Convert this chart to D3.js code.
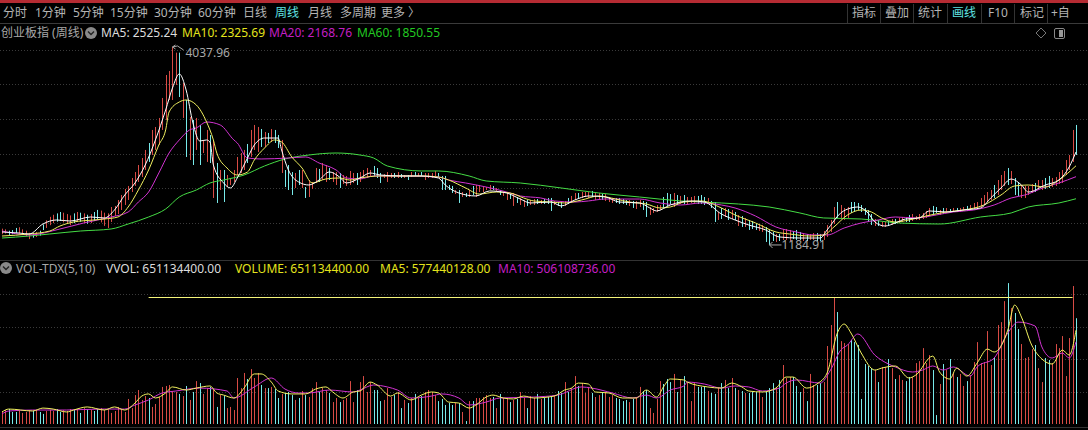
<!DOCTYPE html>
<html>
<head>
<meta charset="utf-8">
<title>创业板指 (周线)</title>
<script src="https://cdn.jsdelivr.net/npm/d3@7"></script>
<style>
html,body{margin:0;padding:0;background:#000;overflow:hidden;}
text{font-family:"Noto Sans","Noto Sans CJK SC",sans-serif;font-size:12px;}
</style>
</head>
<body>
<div id="chart"></div>
<script>
// weekly bars, 10 per row
var priceHigh = [
1420,1410,1390,1400,1430,1440,1410,1390,1360,1350,
1370,1390,1480,1540,1590,1620,1640,1660,1650,1630,
1610,1640,1660,1650,1640,1620,1630,1660,1690,1680,
1650,1640,1732,1747,1833,1905,1992,2035,2150,2236,
2337,2438,2554,2654,2842,2885,3015,3303,3634,3692,
4038,3956,3956,3519,3274,3029,2986,3015,2914,2698,
2842,2770,2698,2366,2265,2265,2193,2150,2265,2453,
2510,2554,2640,2842,2914,2885,2856,2813,2799,2856,
2842,2770,2698,2265,2337,2236,2222,2265,2265,2020,
2121,2092,2294,2280,2366,2337,2294,2236,2236,2222,
2193,2179,2251,2222,2222,2236,2265,2294,2265,2323,
2294,2222,2207,2236,2222,2222,2236,2207,2193,2193,
2236,2236,2222,2236,2222,2222,2222,2251,2222,2179,
2179,2049,2035,1977,1977,1948,1934,1977,2035,2049,
2049,2020,2020,2049,2035,2006,1977,1948,1948,1919,
1934,1876,1862,1833,1833,1833,1847,1847,1833,1847,
1862,1862,1819,1804,1804,1819,1862,1891,1934,1934,
1948,1948,1948,1963,1934,1934,1919,1919,1876,1862,
1862,1862,1847,1833,1833,1819,1819,1833,1819,1804,
1732,1718,1761,1761,1876,1934,1919,1934,1905,1891,
1905,1876,1876,1891,1891,1905,1876,1862,1819,1804,
1660,1718,1718,1703,1689,1660,1617,1602,1574,1545,
1530,1487,1487,1473,1444,1401,1372,1343,1343,1415,
1415,1401,1386,1401,1372,1357,1343,1343,1357,1357,
1343,1386,1473,1545,1732,1804,1761,1718,1732,1804,
1804,1790,1761,1718,1689,1631,1559,1545,1516,1516,
1530,1559,1559,1574,1588,1588,1617,1631,1602,1631,
1646,1675,1718,1747,1732,1689,1718,1718,1703,1718,
1718,1718,1732,1747,1761,1790,1804,1862,1905,1948,
1977,2049,2121,2193,2251,2294,2251,2150,2092,2049,
2035,2035,2063,2078,2121,2121,2150,2179,2150,2164,
2236,2265,2409,2481,2842,2914];
var priceLow = [
1340,1350,1330,1340,1360,1350,1330,1310,1270,1290,
1300,1320,1400,1430,1470,1500,1520,1530,1510,1490,
1470,1500,1520,1520,1500,1490,1500,1530,1550,1510,
1460,1430,1516,1602,1631,1689,1761,1833,1948,2035,
2092,2164,2265,2381,2481,2554,2626,2842,2986,3274,
3274,3490,3317,3015,2453,2409,2337,2554,2337,2510,
2381,2366,1862,1790,1977,1804,2020,2049,2092,2193,
2222,2265,2366,2453,2554,2525,2597,2597,2654,2669,
2654,2582,2222,2020,1977,1905,2006,2049,2006,1862,
1876,1992,2078,2092,2121,2092,2121,2092,2049,2006,
2063,2035,2049,2078,2049,2092,2150,2150,2179,2179,
2150,2078,2150,2092,2150,2150,2150,2150,2150,2121,
2164,2179,2179,2179,2121,2150,2150,2179,2164,1977,
1977,1977,1934,1919,1790,1876,1876,1876,1905,1876,
1948,1948,1977,1977,1977,1963,1905,1891,1833,1847,
1747,1790,1761,1732,1747,1761,1761,1775,1775,1775,
1775,1675,1761,1747,1718,1747,1775,1790,1833,1847,
1862,1876,1862,1876,1833,1847,1833,1819,1804,1790,
1790,1775,1775,1761,1747,1718,1703,1732,1689,1588,
1617,1646,1660,1689,1718,1747,1775,1732,1761,1775,
1775,1775,1790,1790,1775,1775,1761,1790,1718,1516,
1545,1559,1588,1545,1559,1545,1458,1444,1444,1401,
1415,1401,1386,1372,1228,1185,1242,1228,1242,1257,
1257,1242,1271,1257,1257,1242,1242,1257,1257,1242,
1242,1257,1300,1372,1487,1574,1574,1545,1574,1646,
1660,1689,1660,1617,1516,1473,1458,1458,1444,1444,
1458,1473,1487,1502,1516,1516,1516,1530,1545,1545,
1559,1574,1602,1631,1646,1617,1631,1646,1646,1660,
1660,1660,1675,1675,1689,1703,1718,1732,1761,1804,
1833,1862,1905,1977,2035,2049,2063,1905,1891,1862,
1862,1905,1934,1948,1977,1977,1992,2006,2020,2035,
2063,2078,2193,2265,2381,2481];
// volume in millions
var volume = [
80,86,92,74,74,80,68,74,86,80,
86,74,62,80,86,80,92,74,86,80,
92,86,92,68,98,92,86,80,92,98,
86,92,68,80,105,92,74,154,98,178,
209,148,172,160,105,123,166,228,234,240,
203,197,185,172,234,148,197,264,252,185,
221,228,209,105,178,172,98,105,86,283,
221,314,277,338,283,314,240,221,221,228,
215,160,185,191,197,178,148,160,203,178,
166,221,258,197,221,209,191,135,160,135,
148,160,264,135,209,258,295,197,258,209,
209,141,148,221,166,178,197,98,148,129,
160,185,160,172,197,209,197,178,141,154,
117,129,117,129,129,74,18,141,141,160,
160,166,178,160,166,98,185,160,160,135,
148,154,197,160,98,172,160,185,154,160,
166,166,172,203,191,258,197,221,295,234,
252,191,228,191,166,178,197,197,166,178,
160,154,141,148,135,154,160,228,203,209,
98,68,154,264,246,277,258,308,197,271,
295,258,141,252,228,228,228,203,191,185,
221,252,271,221,283,221,209,203,191,191,
197,197,209,166,197,221,252,228,271,363,
283,289,289,234,197,221,141,308,240,240,
252,258,480,609,781,689,510,498,492,517,
504,486,154,369,357,344,332,258,351,351,
400,344,277,301,271,264,289,289,375,387,
467,375,424,332,55,246,369,332,400,314,
289,308,234,264,301,381,504,375,381,572,
363,412,609,627,756,867,713,683,584,492,
406,412,461,486,344,258,406,394,375,492,
467,541,295,529,849,651];
// bars that closed down (cyan), all others closed up (red)
var downBars = [2,3,4,9,11,12,16,17,21,23,25,27,28,43,52,54,56,58,61,63,65,72,76,78,80,81,83,84,85,87,89,93,96,99,104,
109,110,111,115,117,119,121,123,128,129,130,131,132,134,136,138,144,146,149,151,154,157,159,160,161,163,164,166,169,
173,176,180,181,182,183,185,188,189,194,195,196,198,200,204,205,206,208,209,211,213,215,217,219,220,221,224,225,226,
228,232,233,234,236,239,240,245,249,250,251,252,253,254,255,257,260,262,265,266,273,274,276,278,280,283,291,295,297,
298,303,306,307,315];

// moving averages: values read at these bars
var ma5Bars = [0,5,8,12,16,20,26,30,33,36,39,42,45,48,50,52,54,56,58,60,61,62,65,67,69,72,74,77,81,82,84,87,90,93,96,99,101,105,108,111,117,123,128,130,134,139,143,148,152,155,161,164,168,172,177,181,187,190,192,196,202,206,211,215,219,224,228,234,240,242,246,249,251,254,256,259,262,265,269,272,277,282,287,290,293,296,299,301,306,310,313,315];
var ma5 = [1372,1357,1343,1487,1545,1530,1588,1574,1689,1905,2078,2337,2698,3130,3447,3649,3418,2943,2683,2698,2669,2337,2078,2006,2150,2438,2626,2726,2726,2554,2265,2092,2049,2121,2237,2164,2078,2150,2222,2193,2179,2179,2150,2049,1934,1891,1963,1934,1847,1790,1804,1747,1833,1891,1876,1804,1790,1718,1675,1761,1819,1804,1631,1545,1473,1401,1300,1285,1285,1401,1646,1718,1732,1646,1516,1458,1502,1559,1574,1675,1660,1689,1718,1862,2006,2135,2049,1948,2049,2121,2309,2525];
var ma10Bars = [0,8,14,17,21,27,30,34,37,40,43,46,48,49,52,54,57,60,62,63,66,69,72,74,77,80,82,85,88,91,95,99,102,105,111,117,123,128,131,136,140,145,149,153,156,161,165,170,175,180,184,189,193,196,200,205,211,215,221,227,231,237,241,244,248,252,255,258,262,266,271,277,282,288,293,297,301,306,310,315];
var ma10 = [1314,1343,1386,1458,1516,1545,1559,1588,1732,1977,2265,2626,2842,3101,3245,3274,3202,2957,2698,2510,2294,2193,2236,2409,2582,2698,2669,2453,2294,2078,2136,2150,2121,2150,2179,2179,2179,2164,2121,2006,1919,1948,1934,1862,1819,1804,1790,1833,1891,1847,1804,1775,1718,1732,1804,1819,1718,1617,1502,1372,1343,1314,1329,1444,1617,1689,1660,1574,1516,1545,1602,1660,1689,1761,1905,2035,2049,2020,2121,2326];
var ma20Bars = [0,8,17,24,32,37,40,43,46,49,52,55,57,60,64,68,69,72,76,84,89,93,98,101,105,109,117,128,131,136,142,148,152,158,162,168,172,177,181,187,193,199,205,211,215,221,227,233,238,242,247,252,257,262,268,274,279,285,291,296,300,306,310,315];
var ma20 = [1386,1329,1415,1502,1588,1660,1804,1948,2222,2510,2698,2842,2871,2957,2914,2698,2655,2438,2424,2438,2453,2366,2265,2150,2136,2179,2179,2164,2121,2078,2020,1948,1891,1862,1819,1804,1819,1847,1847,1847,1790,1761,1790,1761,1718,1602,1444,1372,1329,1329,1429,1502,1545,1588,1574,1617,1660,1689,1761,1862,1905,2020,2078,2169];
var ma60Bars = [0,8,14,23,32,37,43,48,52,57,61,65,71,77,83,90,98,105,109,113,123,128,137,142,152,164,175,187,199,211,216,225,234,241,252,263,275,287,296,301,310,315];
var ma60 = [1285,1314,1343,1386,1415,1487,1588,1703,1876,1977,2078,2121,2193,2323,2424,2481,2510,2481,2438,2323,2251,2251,2179,2107,2078,2006,1934,1876,1819,1790,1775,1732,1646,1574,1559,1502,1487,1588,1646,1732,1790,1851];
var volMa5Bars = [0,2,9,12,15,19,21,25,30,33,36,39,41,43,45,48,50,54,57,61,63,65,68,71,74,76,79,81,85,89,92,95,97,100,103,105,108,110,114,116,120,123,126,128,131,134,137,139,142,144,147,150,153,156,162,165,167,169,172,174,178,182,186,189,192,194,196,200,201,207,211,214,217,219,223,227,230,232,236,239,242,245,247,249,252,256,258,262,266,268,273,275,278,280,283,286,289,291,295,297,299,302,305,308,311,313,315];
var volMa5 = [74,92,80,98,92,74,86,105,86,105,86,129,172,185,160,191,228,209,221,234,191,178,160,221,308,308,258,203,185,185,215,228,197,160,197,203,258,240,172,191,148,178,197,191,135,129,98,117,166,178,160,154,172,160,172,209,221,252,246,197,191,160,160,209,166,228,277,271,258,228,221,252,228,203,197,221,289,289,221,246,314,560,615,560,437,332,344,357,283,301,418,320,277,344,295,375,461,443,578,732,658,486,400,369,455,424,577];
var volMa10Bars = [0,2,9,19,29,36,39,43,47,51,58,66,68,74,79,83,87,90,96,103,105,109,113,116,120,126,129,134,137,142,146,156,163,170,173,179,185,189,192,196,200,201,206,211,215,219,223,228,230,233,240,243,246,248,251,256,260,262,267,270,273,276,279,284,286,291,295,298,303,305,308,311,313,315];
var volMa10 = [62,80,86,86,92,92,117,148,191,203,221,203,160,228,283,215,191,191,209,197,209,240,228,209,160,172,185,160,117,135,160,166,178,228,221,191,160,178,160,209,234,258,246,221,234,228,203,221,252,271,252,332,455,486,554,424,369,351,320,332,357,332,351,295,351,406,560,627,603,474,406,437,406,506];

// long horizontal study line drawn on the volume panel
var hLineValue = 779;
var hLineFrom = 43;
var hLineTo = 314;

var priceTicks = [1500,2000,2500,3000,3500,4000];
var volTicks = [200,400,600,800];

var leftTabs = ["分时","1分钟","5分钟","15分钟","30分钟","60分钟","日线","周线","月线","多周期","更多 〉"];
var leftTabX = [3,35,73,110,154,198,243,275,308,340,381];
var rightTabs = ["指标","叠加","统计","画线","F10","标记","+自"];
var rightTabX = [852,885,918,952,988,1020,1051];
var tabLines = [847,880,913,947,981,1014,1047];
var activeTabs = ["周线","画线"];

var width = 1088, height = 430;
var RED = "#d84b45", CYAN = "#78eaea";

var svg = d3.select("#chart").append("svg")
	.attr("width",width)
	.attr("height",height)
	.style("display","block");

svg.append("rect").attr("width",width).attr("height",height).attr("fill","#000");

var x = d3.scaleLinear().domain([0,315]).range([2,1076]);
var yPrice = d3.scaleLinear().domain([1000,4000]).range([257.8,49.6]);
var yVol = d3.scaleLinear().domain([0,800]).range([424,294]);

// bars sit on whole pixels so the thin lines stay sharp
function barX(i){ return Math.round(x(i))+0.5; }

// header
svg.append("rect").attr("width",width).attr("height",3).attr("fill","#b52b33");
svg.append("rect").attr("y",23).attr("width",width).attr("height",1).attr("fill","#3a3a3a");
svg.append("rect").attr("y",260).attr("width",width).attr("height",1).attr("fill","#333");
svg.append("rect").attr("y",427).attr("width",width).attr("height",1).attr("fill","#333");

svg.selectAll("line.tab").data(tabLines).enter().append("line")
	.attr("class","tab")
	.attr("x1",function(d){return d+0.5;}).attr("x2",function(d){return d+0.5;})
	.attr("y1",4).attr("y2",23)
	.attr("stroke","#333");

function tabs(labels,xs){
	svg.selectAll(null).data(labels).enter().append("text")
		.attr("x",function(d,i){return xs[i];})
		.attr("y",17)
		.attr("fill",function(d){return activeTabs.indexOf(d)>=0 ? "#5fe3e3" : "#b4b4b4";})
		.text(function(d){return d;});
}
tabs(leftTabs,leftTabX);
tabs(rightTabs,rightTabX);

// legends
function legend(items,yPos){
	svg.selectAll(null).data(items).enter().append("text")
		.attr("x",function(d){return d[0];})
		.attr("y",yPos)
		.attr("fill",function(d){return d[2];})
		.text(function(d){return d[1];});
}
legend([
	[1,"创业板指 (周线)","#a8a8a8"],
	[101,"MA5: 2525.24","#dcdcdc"],
	[182,"MA10: 2325.69","#e4e41c"],
	[269,"MA20: 2168.76","#c41fc4"],
	[357,"MA60: 1850.55","#22c922"]
],37);
legend([
	[16,"VOL-TDX(5,10)","#a8a8a8"],
	[106,"VVOL: 651134400.00","#dcdcdc"],
	[235,"VOLUME: 651134400.00","#e4e41c"],
	[380,"MA5: 577440128.00","#e4e41c"],
	[498,"MA10: 506108736.00","#c41fc4"]
],273);

function chevronBadge(cx,cy){
	svg.append("circle").attr("cx",cx).attr("cy",cy).attr("r",6).attr("fill","#8a8a8a");
	svg.append("path")
		.attr("d","M"+(cx-3)+","+(cy-1.5)+"L"+cx+","+(cy+1.5)+"L"+(cx+3)+","+(cy-1.5))
		.attr("fill","none").attr("stroke","#222").attr("stroke-width",1.4);
}
chevronBadge(91,33);
chevronBadge(6,268);

svg.append("path").attr("d","M1041,28L1046,33L1041,38L1036,33Z").attr("fill","none").attr("stroke","#777");
svg.append("rect").attr("x",1054.5).attr("y",28.5).attr("width",10).attr("height",10).attr("rx",1.5)
	.attr("fill","none").attr("stroke","#888");
svg.append("rect").attr("x",1059).attr("y",30).attr("width",4).attr("height",7).attr("fill","#999");

// dotted grid
function grid(ticks,scale){
	svg.selectAll(null).data(ticks).enter().append("line")
		.attr("x1",0).attr("x2",width)
		.attr("y1",function(d){return Math.round(scale(d))+0.5;})
		.attr("y2",function(d){return Math.round(scale(d))+0.5;})
		.attr("stroke","#3a3a3a")
		.attr("stroke-dasharray","1,2");
}
grid(priceTicks,yPrice);
grid(volTicks,yVol);

function barColor(i){ return downBars.indexOf(i)>=0 ? CYAN : RED; }

// price bars are so narrow that only the high-low wick is left
svg.selectAll("line.wick").data(priceHigh).enter().append("line")
	.attr("class","wick")
	.attr("x1",function(d,i){return barX(i);})
	.attr("x2",function(d,i){return barX(i);})
	.attr("y1",function(d){return yPrice(d);})
	.attr("y2",function(d,i){return yPrice(priceLow[i]);})
	.attr("stroke",function(d,i){return barColor(i);})
	.attr("stroke-width",1);

svg.selectAll("line.vol").data(volume).enter().append("line")
	.attr("class","vol")
	.attr("x1",function(d,i){return barX(i);})
	.attr("x2",function(d,i){return barX(i);})
	.attr("y1",function(d){return yVol(d);})
	.attr("y2",yVol(0))
	.attr("stroke",function(d,i){return barColor(i);})
	.attr("stroke-width",1);

function maLine(bars,values,scale,color){
	var line = d3.line()
		.x(function(d,i){return x(bars[i]);})
		.y(function(d){return scale(d);})
		.curve(d3.curveMonotoneX);
	svg.append("path")
		.datum(values)
		.attr("d",line)
		.attr("fill","none")
		.attr("stroke",color)
		.attr("stroke-width",1);
}
maLine(ma60Bars,ma60,yPrice,"#45dc45");
maLine(ma20Bars,ma20,yPrice,"#d233d2");
maLine(ma10Bars,ma10,yPrice,"#f0f060");
maLine(ma5Bars,ma5,yPrice,"#ffffff");
maLine(volMa10Bars,volMa10,yVol,"#d233d2");
maLine(volMa5Bars,volMa5,yVol,"#f5f560");

svg.append("line")
	.attr("x1",x(hLineFrom)).attr("x2",x(hLineTo))
	.attr("y1",Math.round(yVol(hLineValue))+0.5).attr("y2",Math.round(yVol(hLineValue))+0.5)
	.attr("stroke","#f5f57a");

// high and low labels
var maxI = d3.range(priceHigh.length).sort(function(a,b){return priceHigh[b]-priceHigh[a];})[0];
var minI = d3.range(priceLow.length).sort(function(a,b){return priceLow[a]-priceLow[b];})[0];
var px = barX(maxI), py = yPrice(priceHigh[maxI]);
svg.append("path")
	.attr("d","M"+(px+3)+","+(py-2)+"L"+px+","+py+"L"+(px+3)+","+(py+2)+"M"+px+","+py+"L"+(px+5)+","+(py-1)+"L"+(px+11)+","+(py+3))
	.attr("fill","none").attr("stroke","#a8a8a8");
svg.append("text").attr("x",px+13).attr("y",py+10).attr("fill","#a8a8a8").text("4037.96");
var lx = barX(minI), ly = yPrice(priceLow[minI]);
svg.append("path")
	.attr("d","M"+(lx+3)+","+(ly-3)+"L"+lx+","+ly+"L"+(lx+3)+","+(ly+3)+"M"+lx+","+ly+"H"+(lx+12))
	.attr("fill","none").attr("stroke","#a8a8a8");
svg.append("text").attr("x",lx+12).attr("y",ly+4).attr("fill","#a8a8a8").text("1184.91");
</script>
</body>
</html>
